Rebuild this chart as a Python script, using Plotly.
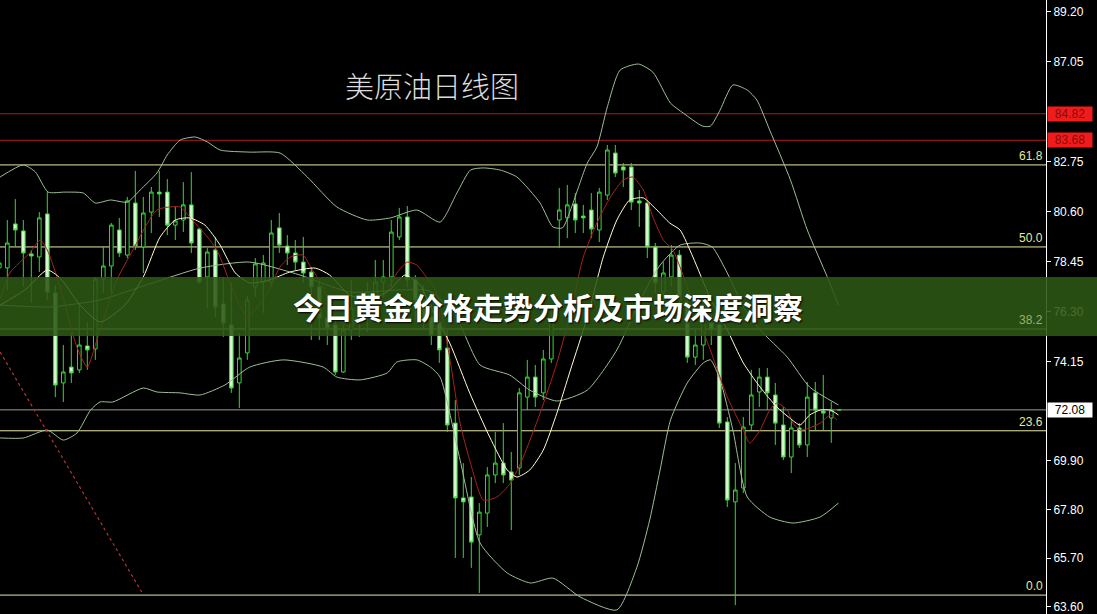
import plotly.graph_objects as go

# ---------------- data ----------------
idx = list(range(106))
opens = [78.19,78.19,80.08,79.78,78.79,78.66,80.51,77.11,73.24,73.92,
         73.80,74.83,74.70,77.71,78.27,79.82,78.74,80.98,79.09,80.59,
         81.45,81.45,80.03,80.25,80.90,79.86,77.80,78.96,76.64,75.73,
         73.24,74.53,77.37,77.58,77.58,79.91,79.13,78.83,78.44,78.01,
         77.37,76.03,75.73,73.71,75.52,75.95,76.25,76.94,77.58,77.80,
         79.52,80.38,77.67,76.81,76.07,75.86,74.74,71.51,68.29,68.33,
         66.70,67.64,69.28,69.79,69.41,69.58,72.63,73.49,72.81,74.27,
         80.25,80.34,80.94,80.42,80.68,79.82,81.32,83.13,82.53,82.53,
         81.07,80.98,79.09,77.15,77.80,78.74,76.59,74.35,74.87,75.82,
         75.73,71.56,68.12,68.72,71.43,72.85,73.49,72.72,71.43,70.05,
         71.30,70.57,72.81,72.03,71.73,72.08]
highs = [79.17,80.25,81.15,80.25,78.96,80.59,81.45,77.45,74.87,75.39,
         76.68,75.86,77.80,79.09,80.12,80.34,81.24,82.36,81.24,81.67,
         82.36,82.01,80.81,81.88,82.31,79.91,79.04,79.52,77.80,77.54,
         75.39,77.00,78.61,78.74,80.25,80.55,79.60,79.39,79.52,78.23,
         77.67,76.46,76.03,75.73,77.67,76.94,77.58,78.53,78.53,80.25,
         80.77,80.85,77.88,77.45,76.81,76.38,75.52,72.50,69.79,69.19,
         68.07,69.62,71.13,71.51,70.27,73.02,74.23,74.01,74.66,76.59,
         81.63,81.76,81.41,80.90,81.41,81.63,83.48,83.48,82.70,82.70,
         81.54,81.11,79.26,78.44,79.17,78.96,77.02,75.52,76.07,76.16,
         76.07,71.77,69.79,71.77,73.80,73.88,73.88,73.24,72.20,71.64,
         71.51,73.28,73.28,73.58,72.42,72.10]
lows = [77.24,77.24,79.09,77.37,76.68,78.01,76.81,72.63,72.42,73.24,
        73.67,73.80,74.23,77.11,77.11,78.66,78.61,78.96,77.97,79.69,
        80.38,79.60,79.39,79.73,78.83,77.50,76.46,76.07,75.22,72.81,
        72.16,74.23,76.94,76.25,77.37,78.83,78.31,78.10,77.54,75.09,
        75.09,74.87,73.58,73.67,75.09,75.22,75.43,76.25,76.94,77.37,
        79.39,77.37,75.95,75.52,74.87,74.10,71.13,65.71,65.71,65.28,
        64.20,67.04,68.93,68.93,66.91,69.28,72.07,72.20,72.50,74.10,
        79.04,79.47,79.69,79.69,79.47,79.30,81.11,82.10,81.67,80.68,
        79.95,78.61,77.11,76.81,77.37,76.59,74.10,74.01,74.23,74.87,
        71.30,67.90,63.68,68.50,71.21,72.20,72.07,70.57,69.92,69.36,
        70.44,70.05,71.21,71.21,70.66,72.06]
closes = [78.40,79.26,79.82,78.83,78.70,80.34,77.15,73.15,73.71,73.67,
          74.87,74.66,77.71,78.27,80.03,78.83,81.07,79.13,80.55,81.45,
          81.37,80.03,80.21,80.90,79.26,77.58,78.87,76.51,75.82,73.02,
          74.31,76.81,78.36,78.40,79.69,79.17,78.83,78.44,77.97,77.37,
          76.03,75.60,73.71,75.52,76.46,76.59,77.11,77.58,77.80,79.73,
          80.38,77.67,76.81,76.03,75.30,74.66,71.43,68.29,68.12,66.39,
          67.68,69.28,69.79,69.28,69.06,72.81,73.49,72.63,74.27,75.95,
          80.68,80.90,80.25,80.34,79.86,81.45,83.26,82.27,82.40,81.02,
          80.98,79.09,77.54,77.97,78.74,76.81,74.35,74.87,75.82,75.52,
          71.51,68.20,68.63,71.34,72.72,73.49,72.81,71.51,70.05,71.30,
          70.57,72.63,72.07,71.94,72.07,72.08]

upper_x = [0.1,3.0,4.5,6.1,8.2,10.5,12.0,13.9,16.0,17.6,19.7,21.0,22.6,24.5,26.0,27.6,31.3,35.1,38.5,42.2,
           46.0,48.9,52.2,55.1,57.2,58.9,60.5,62.6,64.7,67.6,69.2,70.4,71.4,73.5,74.7,76.0,77.6,79.9,81.7,83.9,
           85.5,87.9,88.9,90.1,91.7,93.5,94.7,96.3,98.9,101.0,103.5,104.9]
upper_y = [82.10,82.62,82.32,81.45,81.45,81.41,80.98,81.11,81.02,81.54,82.27,83.05,83.69,83.82,83.61,83.26,83.17,83.13,82.10,80.81,
           80.25,80.34,80.68,80.16,81.41,82.40,82.49,82.40,82.10,80.98,79.95,79.91,80.68,82.70,83.39,85.11,86.70,86.96,86.61,85.28,
           84.85,84.29,84.29,84.98,86.06,85.84,85.41,84.12,81.97,79.82,77.80,76.59]

mid_x = [0.1,6.3,12.6,18.8,25.1,31.3,37.6,43.8,50.1,53.8,57.0,60.1,63.8,66.3,69.7,73.5,77.2,80.1,82.6,85.1,
         87.6,89.1,91.0,93.0,95.1,98.5,101.3,104.9]
mid_y = [76.59,76.51,76.81,77.50,78.18,78.44,77.88,77.15,77.24,77.19,76.16,74.01,73.58,72.93,72.46,72.93,74.66,76.81,78.31,79.17,
         79.26,79.09,77.97,76.51,75.52,74.35,73.06,72.29]

lower_x = [0.1,3.0,6.0,8.0,9.7,11.4,12.6,14.2,18.0,19.7,22.6,25.1,28.2,31.3,35.5,40.5,42.2,45.1,48.5,49.7,
           52.2,53.9,55.1,57.6,60.1,63.5,66.4,69.2,72.6,77.2,79.7,81.3,82.6,83.9,86.0,88.0,88.9,90.1,91.7,93.5,
           96.3,99.2,102.6,104.9]
lower_y = [70.87,70.87,71.21,70.78,71.08,72.07,72.42,72.42,73.02,72.85,72.81,72.72,73.15,73.92,74.23,73.92,73.49,73.37,73.67,74.14,
           74.23,73.92,73.49,69.92,66.35,65.06,64.63,64.84,64.03,63.47,65.31,67.34,69.49,71.64,73.24,74.10,74.23,73.37,71.21,68.33,
           67.47,67.21,67.47,68.07]

red_ma_x = [0.1,1.3,3.8,5.1,6.0,7.6,9.7,11.0,12.2,14.7,16.7,19.7,22.6,23.8,26.0,27.2,29.2,31.0,33.5,35.1,
            36.4,38.0,38.9,40.5,41.7,43.8,46.0,48.0,49.7,51.0,52.2,53.0,54.7,56.4,57.6,58.9,60.5,62.2,63.9,65.5,
            67.6,69.7,71.4,73.0,74.7,76.4,78.0,79.2,80.5,81.7,83.0,84.2,86.7,89.2,91.0,93.0,93.8,95.1,96.3,97.2,
            98.5,99.2,100.1,101.3,102.6,103.9,104.7]
red_ma_y = [76.81,77.97,78.83,79.39,78.96,77.37,74.78,73.92,75.09,77.67,78.96,80.68,80.81,80.38,79.52,78.96,77.24,76.07,77.11,78.23,
            78.66,78.74,78.23,77.37,76.25,75.65,76.25,76.94,77.97,78.44,78.31,77.97,77.11,74.10,71.51,69.79,68.20,68.33,68.93,70.05,
            71.94,74.10,76.25,78.66,80.12,81.24,81.97,82.10,81.54,80.38,79.39,78.96,76.68,74.35,72.63,71.21,70.65,71.21,72.07,72.37,
            72.07,71.51,71.21,71.30,71.51,71.86,71.64]

white_ma_x = [0.1,3.2,6.0,7.6,10.1,12.6,15.7,18.0,20.1,22.0,23.8,25.7,27.6,29.5,31.3,33.8,36.3,39.5,41.3,43.8,
              46.3,48.8,50.7,52.6,53.8,56.3,58.8,61.3,63.5,64.7,66.3,68.0,69.7,71.4,73.5,75.5,77.2,78.8,80.5,82.2,
              83.8,85.1,86.7,88.8,91.0,93.0,95.1,97.2,98.8,100.1,101.3,102.6,103.9,104.9]
white_ma_y = [76.59,77.24,78.10,77.75,76.59,75.86,76.59,77.80,79.52,80.25,80.34,80.03,79.17,77.97,77.54,77.67,78.01,78.18,77.88,77.02,
              76.81,77.24,77.88,77.45,76.59,74.96,72.81,70.91,69.49,69.19,69.49,70.35,71.94,73.80,76.07,78.66,80.25,81.11,81.20,80.68,
              80.12,79.82,78.66,76.94,75.52,74.10,73.06,72.20,71.73,71.43,71.86,72.07,72.07,71.86]

trend_x = [0.1, 17.8]
trend_y = [74.57, 64.24]

tick_vals = [89.20, 87.05, 82.75, 80.60, 78.45, 76.30, 74.15, 69.90, 67.80, 65.70, 63.60]
fib_levels = [82.62, 79.09, 75.56, 71.18, 64.11]
fib_labels = ["61.8", "50.0", "38.2", "23.6", "0.0"]
red_levels = [84.82, 83.68]
last_price = 72.08

chart_title = "美原油日线图"
banner_text = "今日黄金价格走势分析及市场深度洞察"

# ---------------- figure ----------------
fig = go.Figure()

band_color = "#9dbf98"
for bx, by in [(upper_x, upper_y), (mid_x, mid_y), (lower_x, lower_y)]:
    fig.add_trace(go.Scatter(x=bx, y=by, mode="lines",
                             line=dict(color=band_color, width=1, shape="spline", smoothing=0.6),
                             hoverinfo="skip"))

fig.add_trace(go.Scatter(x=trend_x, y=trend_y, mode="lines",
                         line=dict(color="#b03434", width=1.2, dash="dot"), hoverinfo="skip"))

fig.add_trace(go.Candlestick(
    x=idx, open=opens, high=highs, low=lows, close=closes,
    increasing=dict(line=dict(color="#34d834", width=1), fillcolor="#000000"),
    decreasing=dict(line=dict(color="#34d834", width=1), fillcolor="#d2f7cc"),
    whiskerwidth=0, hoverinfo="skip"))

fig.add_trace(go.Scatter(x=red_ma_x, y=red_ma_y, mode="lines",
                         line=dict(color="#a82222", width=1, shape="spline", smoothing=0.6),
                         hoverinfo="skip"))
fig.add_trace(go.Scatter(x=white_ma_x, y=white_ma_y, mode="lines",
                         line=dict(color="#ffffd2", width=1, shape="spline", smoothing=0.6),
                         hoverinfo="skip"))

shapes = []
for lv in red_levels:
    shapes.append(dict(type="line", xref="paper", x0=0, x1=1, yref="y", y0=lv, y1=lv,
                       line=dict(color="#b01c1c", width=1), layer="below"))
for lv in fib_levels:
    shapes.append(dict(type="line", xref="paper", x0=0, x1=1, yref="y", y0=lv, y1=lv,
                       line=dict(color="#eaeaa4", width=1), layer="below"))
shapes.append(dict(type="line", xref="paper", x0=0, x1=1, yref="y", y0=last_price, y1=last_price,
                   line=dict(color="#9a9a9a", width=1), layer="below"))
# banner
shapes.append(dict(type="rect", xref="paper", x0=-0.01, x1=1.06, yref="paper",
                   y0=0.4528, y1=0.5489, fillcolor="rgba(46,88,20,0.88)",
                   line=dict(width=0), layer="above"))

annotations = []
for lv, lb in zip(fib_levels, fib_labels):
    inside_banner = 75.0 < lv < 77.6
    annotations.append(dict(xref="paper", x=0.999, xanchor="right", yref="y", y=lv,
                            yanchor="bottom", text=lb, showarrow=False,
                            font=dict(family="Liberation Sans", size=12,
                                      color="#9fae62" if inside_banner else "#e8e89a")))
for lv in red_levels:
    annotations.append(dict(xref="paper", x=1, xanchor="left", xshift=1, yref="y", y=lv,
                            text=f"{lv:.2f}", showarrow=False, bgcolor="#f01c1c",
                            width=44, height=14, borderpad=0,
                            font=dict(family="Liberation Sans", size=12, color="#8a0a0a")))
annotations.append(dict(xref="paper", x=1, xanchor="left", xshift=1, yref="y", y=last_price,
                        text=f"{last_price:.2f}", showarrow=False, bgcolor="#ffffff",
                        width=44, height=14, borderpad=0,
                        font=dict(family="Liberation Sans", size=12, color="#000000")))
annotations.append(dict(xref="paper", x=0.413, xanchor="center", yref="paper", y=0.862,
                        yanchor="middle", text=chart_title, showarrow=False,
                        font=dict(family="Noto Sans CJK SC", size=29, color="#dcdcdc", weight=300)))
annotations.append(dict(xref="paper", x=0.5239, xanchor="center", yref="paper", y=0.5016,
                        yanchor="middle", text=banner_text, showarrow=False,
                        font=dict(family="Noto Sans CJK SC", size=30, color="#ffffff", weight="bold",
                                  shadow="1px 1px 2px #000000")))

fig.update_layout(
    width=1097, height=614,
    margin=dict(l=0, r=51, t=0, b=0, pad=0),
    paper_bgcolor="#000000", plot_bgcolor="#000000",
    showlegend=False,
    xaxis=dict(range=[0.0875, 130.84], visible=False, rangeslider=dict(visible=False),
               showgrid=False, zeroline=False),
    yaxis=dict(range=[63.296, 89.716], side="right", tickvals=tick_vals,
               ticktext=[f"{v:.2f}" for v in tick_vals],
               showgrid=False, zeroline=False, showline=True, linecolor="#ffffff", linewidth=1,
               ticks="outside", ticklen=4, tickcolor="#ffffff", ticklabeloverflow="allow",
               tickfont=dict(family="Liberation Sans", size=12, color="#ffffff")),
    shapes=shapes, annotations=annotations,
    boxgap=0.35,
)

fig.write_html("out.html", config={"displayModeBar": False},
               post_script="document.body.style.margin='0';document.body.style.background='#000';")
